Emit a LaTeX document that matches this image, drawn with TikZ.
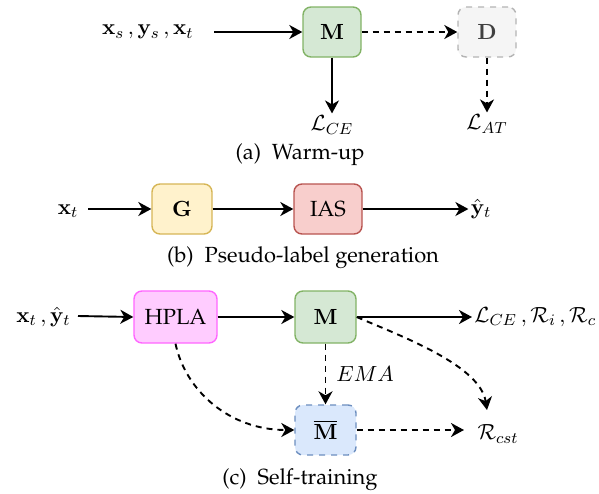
\documentclass[tikz,border=0pt,11pt]{standalone}
\usepackage[T1]{fontenc}
\usepackage{palatino}
\usepackage{amsmath}
\usetikzlibrary{arrows.meta}
\definecolor{gfill}{HTML}{D5E8D4}\definecolor{gdraw}{HTML}{82B366}
\definecolor{dfill}{HTML}{F5F5F5}\definecolor{ddraw}{HTML}{B3B3B3}
\definecolor{yfill}{HTML}{FFF2CC}\definecolor{ydraw}{HTML}{D6B656}
\definecolor{rfill}{HTML}{F8CECC}\definecolor{rdraw}{HTML}{B85450}
\definecolor{pfill}{HTML}{FFCCFF}\definecolor{pdraw}{HTML}{FF66FF}
\definecolor{bfill}{HTML}{DAE8FC}\definecolor{bdraw}{HTML}{6C8EBF}
\tikzset{
  box/.style={draw, rounded corners=4pt, line width=0.7pt, inner sep=0pt, minimum height=25pt, align=center},
  conn/.style={line width=0.95pt, -{Stealth[length=6.5pt,width=7pt,inset=2pt]}},
  dconn/.style={conn, dashed, dash pattern=on 3pt off 2.5pt},
  lbl/.style={inner sep=1pt},
  captxt/.style={inner sep=0pt}
}
\begin{document}
\begin{tikzpicture}[x=0.5pt,y=-0.5pt]
\useasboundingbox (0,0) rectangle (599,493);
% (a) Warm-up
\node[lbl, anchor=east] (xin) at (196,32) {$\mathbf{x}_s\,, \mathbf{y}_s\,, \mathbf{x}_t$};
\coordinate (xinE) at (214,32);
\node[box, fill=gfill, draw=gdraw, minimum width=29pt] (Ma) at (332,32) {$\mathbf{M}$};
\node[box, fill=dfill, draw=ddraw, dashed, minimum width=29pt, text=black!75] (D) at (487,32) {$\mathbf{D}$};
\node[lbl] (lce) at (332,125) {$\mathcal{L}_{CE}$};
\node[lbl] (lat) at (487,124) {$\mathcal{L}_{AT}$};
\draw[conn] (xinE) -- (Ma.west);
\draw[dconn] (Ma.east) -- (D.west);
\draw[conn] (Ma.south) -- (lce.north);
\draw[dconn] (D.south) -- (lat.north);
\node[captxt] (capa) at (300,155) {(a)\ \ Warm-up};
% (b) Pseudo-label generation
\node[lbl] (xt) at (68,211) {$\mathbf{x}_t$};
\coordinate (xtE) at (88,209);
\node[box, fill=yfill, draw=ydraw, minimum width=30pt] (G) at (182,209) {$\mathbf{G}$};
\node[box, fill=rfill, draw=rdraw, minimum width=34pt] (IAS) at (328,209) {IAS};
\node[lbl] (yt) at (481,209) {$\hat{\mathbf{y}}_t$};
\draw[conn] (xtE) -- (G.west);
\draw[conn] (G.east) -- (IAS.west);
\draw[conn] (IAS.east) -- (yt.west);
\node[captxt] (capb) at (303,258) {(b)\ \ Pseudo-label generation};
% (c) Self-training
\node[lbl, anchor=east] (xyt) at (73,317) {$\mathbf{x}_t\,, \hat{\mathbf{y}}_t$};
\coordinate (xytE) at (78,316);
\node[box, fill=pfill, draw=pdraw, minimum width=41.5pt, minimum height=26pt] (HPLA) at (175.5,317) {HPLA};
\node[box, fill=gfill, draw=gdraw, minimum width=30.5pt, minimum height=26pt] (Mc) at (325.5,317) {$\mathbf{M}$};
\node[box, fill=bfill, draw=bdraw, dashed, minimum width=30.5pt] (Mb) at (325.5,430) {$\overline{\mathbf{M}}$};
\node[lbl, anchor=west] (losses) at (472,317) {$\mathcal{L}_{CE}\,, \mathcal{R}_i\,, \mathcal{R}_c$};
\node[lbl] (rcst) at (498,434) {$\mathcal{R}_{cst}$};
\coordinate (rcstN) at (487,410);
\coordinate (rcstW) at (464,430);
\draw[conn] (xytE) -- (HPLA.west);
\draw[conn] (HPLA.east) -- (Mc.west);
\draw[conn] (Mc.east) -- (losses.west);
\draw[dconn] (Mc.south) -- node[right, lbl, xshift=4pt] {$EMA$} (Mb.north);
\draw[dconn] (Mb.east) -- (rcstW);
\draw[dconn] (HPLA.south) .. controls +(10,47) and +(-65,0) .. (Mb.west);
\draw[dconn] (Mc.east) .. controls +(44,19) and +(-7,-45) .. (rcstN);
\node[captxt] (capc) at (300,480) {(c)\ \ Self-training};
\end{tikzpicture}
\end{document}
